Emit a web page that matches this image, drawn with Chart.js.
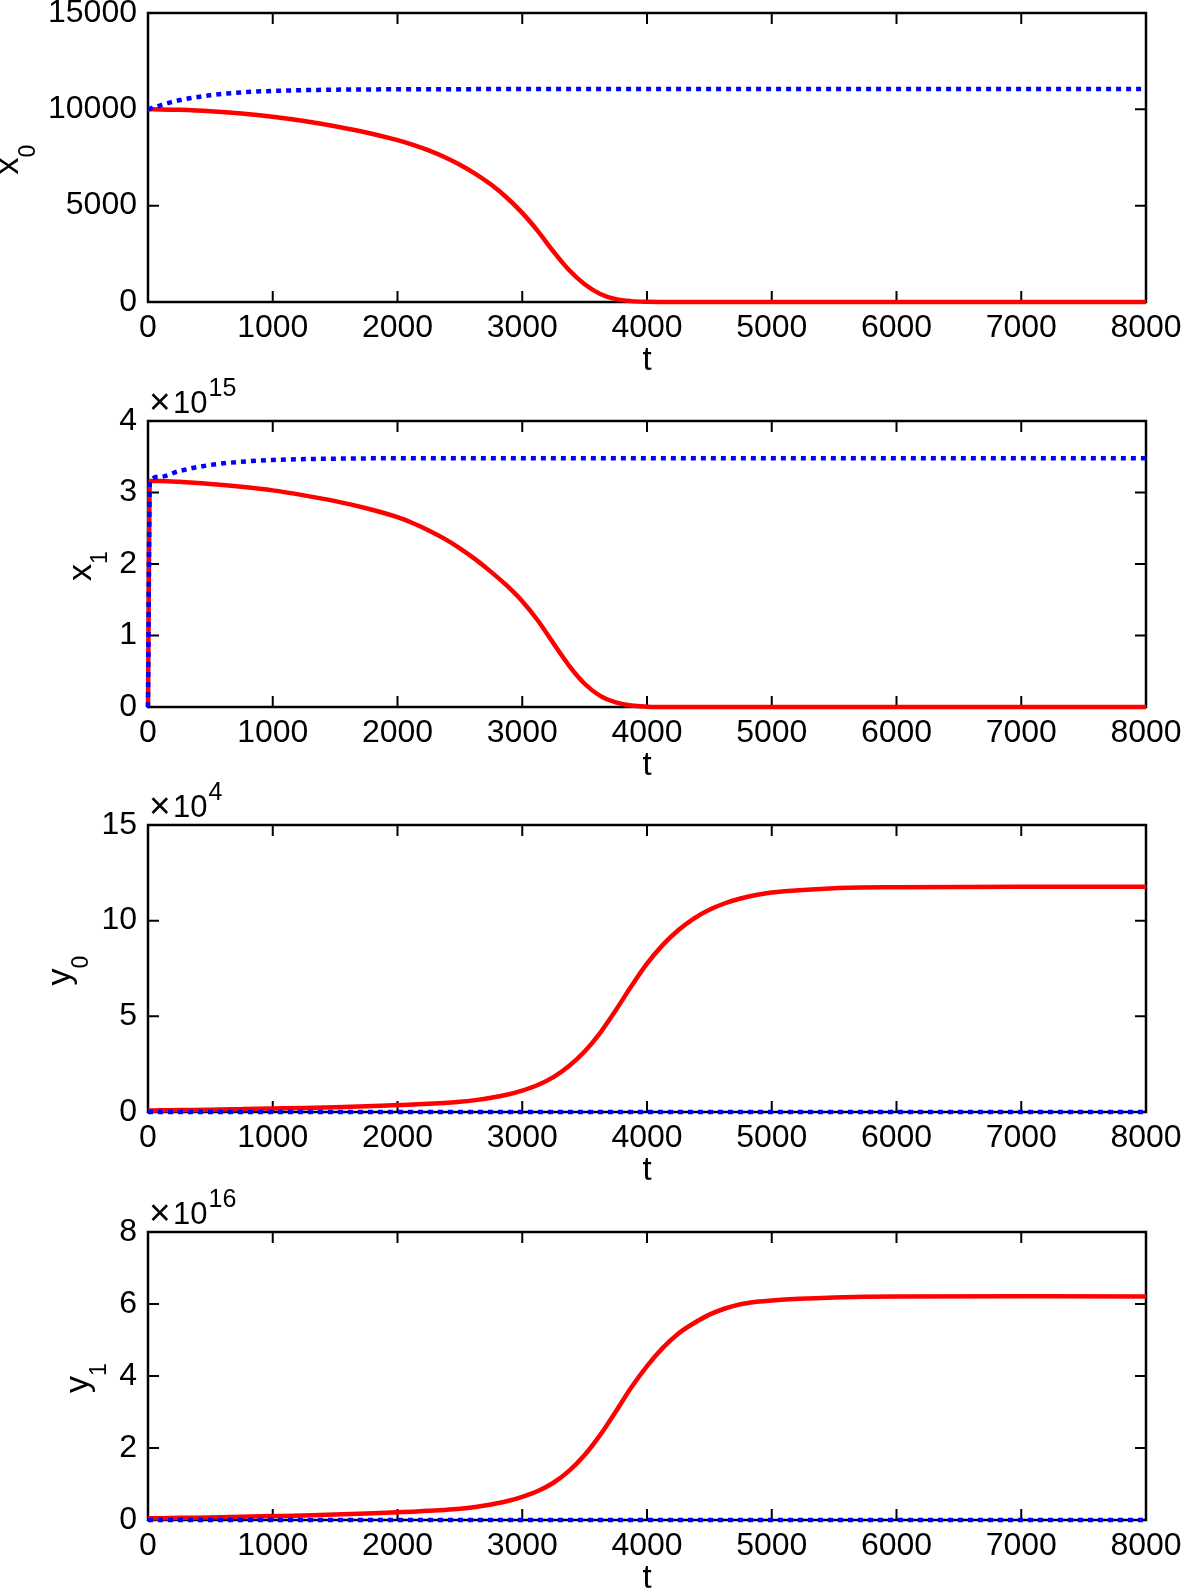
<!DOCTYPE html>
<html>
<head>
<meta charset="utf-8">
<script src="https://cdn.jsdelivr.net/npm/chart.js@4.4.0/dist/chart.umd.min.js"></script>
<style>
  html, body { margin: 0; padding: 0; background: #fff; }
  body { width: 1181px; height: 1591px; position: relative; overflow: hidden; }
  canvas { position: absolute; left: 0; }
</style>
</head>
<body>
<canvas id="chartX0" width="1181" height="411"></canvas>
<canvas id="chartX1" width="1181" height="408"></canvas>
<canvas id="chartY0" width="1181" height="409"></canvas>
<canvas id="chartY1" width="1181" height="410"></canvas>
<script>
// -------------------------------------------------------------------------- Data

const t = [0, 100, 250, 500, 750, 1000, 1250, 1500, 1750,
    2000, 2125, 2250, 2375, 2500, 2625, 2750, 2875, 3000, 3125, 3250, 3375, 3500, 3625,
    3750, 3875, 4000, 4125, 4250, 4375, 4500, 4625, 4750, 4875, 5000,
    5500, 6000, 7000, 8000]

// x1 jumps up right at the start, so it gets one extra early point
const tX1 = [0, 15, 100, 250, 500, 750, 1000, 1250, 1500, 1750,
    2000, 2125, 2250, 2375, 2500, 2625, 2750, 2875, 3000, 3125, 3250, 3375, 3500, 3625,
    3750, 3875, 4000, 4125, 4250, 4375, 4500, 4625, 4750, 4875, 5000,
    5500, 6000, 7000, 8000]

const x0Red = [10000, 9996, 9975, 9905, 9785, 9615, 9395, 9125, 8800,
    8400, 8155, 7865, 7525, 7125, 6655, 6095, 5425, 4625, 3680, 2620, 1660, 920, 420,
    150, 45, 10, 2, 0, 0, 0, 0, 0, 0, 0,
    0, 0, 0, 0]
const x0Blue = [10000, 10210, 10470, 10730, 10880, 10955, 10995, 11020, 11032,
    11040, 11043, 11045, 11047, 11048, 11049, 11050, 11050, 11050, 11050, 11050, 11050, 11050, 11050,
    11050, 11050, 11050, 11050, 11050, 11050, 11050, 11050, 11050, 11050, 11050,
    11050, 11050, 11050, 11050]

const x1Red = [0, 3.16, 3.16, 3.15, 3.12, 3.08, 3.03, 2.96, 2.88, 2.78,
    2.655, 2.57, 2.47, 2.355, 2.22, 2.065, 1.89, 1.70, 1.48, 1.21, 0.89, 0.58, 0.325, 0.155,
    0.065, 0.02, 0.005, 0.001, 0, 0, 0, 0, 0, 0, 0,
    0, 0, 0, 0]
const x1Blue = [0, 3.16, 3.22, 3.30, 3.385, 3.43, 3.455, 3.467, 3.473, 3.477,
    3.479, 3.48, 3.48, 3.48, 3.48, 3.48, 3.48, 3.48, 3.48, 3.48, 3.48, 3.48, 3.48, 3.48,
    3.48, 3.48, 3.48, 3.48, 3.48, 3.48, 3.48, 3.48, 3.48, 3.48, 3.48,
    3.48, 3.48, 3.48, 3.48]

const y0Red = [0.08, 0.085, 0.1, 0.12, 0.15, 0.18, 0.21, 0.25, 0.3,
    0.36, 0.39, 0.43, 0.475, 0.53, 0.62, 0.74, 0.9, 1.12, 1.41, 1.82, 2.4, 3.16, 4.14,
    5.32, 6.58, 7.75, 8.72, 9.5, 10.11, 10.57, 10.91, 11.16, 11.34, 11.47,
    11.7, 11.75, 11.77, 11.77]
const y0Blue = [0, 0, 0, 0, 0, 0, 0, 0, 0,
    0, 0, 0, 0, 0, 0, 0, 0, 0, 0, 0, 0, 0, 0,
    0, 0, 0, 0, 0, 0, 0, 0, 0, 0, 0,
    0, 0, 0, 0]

const y1Red = [0.05, 0.052, 0.06, 0.072, 0.09, 0.108, 0.126, 0.15, 0.18,
    0.215, 0.232, 0.255, 0.278, 0.31, 0.36, 0.43, 0.52, 0.645, 0.805, 1.035, 1.365, 1.805, 2.365,
    3.015, 3.685, 4.275, 4.775, 5.175, 5.465, 5.705, 5.875, 5.995, 6.06, 6.1,
    6.18, 6.21, 6.215, 6.21]
const y1Blue = [0, 0, 0, 0, 0, 0, 0, 0, 0,
    0, 0, 0, 0, 0, 0, 0, 0, 0, 0, 0, 0, 0, 0,
    0, 0, 0, 0, 0, 0, 0, 0, 0, 0, 0,
    0, 0, 0, 0]

const xTicks = { min: 0, max: 8000, step: 1000 }

// -------------------------------------------------------------------------- Style

const red = '#ff0000'
const blue = '#0000ff'
const fontFamily = '"Liberation Sans", Arial, Helvetica, sans-serif'
Chart.defaults.font.family = fontFamily
Chart.defaults.color = '#000'

const tickLen = 11
const tickFont = 32

function points(xs, ys) {
    return xs.map((v, i) => ({ x: v, y: ys[i] }))
}

// box, inward ticks, y label with subscript and the x10^n factor
function framePlugin(p) {
    return {
        id: 'frame',
        beforeDatasetsDraw(chart) {
            const ctx = chart.ctx
            const a = chart.chartArea
            const xs = chart.scales.x
            const ys = chart.scales.y
            ctx.save()
            ctx.strokeStyle = '#000'
            ctx.lineWidth = 2
            ctx.beginPath()
            xs.ticks.forEach(tk => {
                const px = xs.getPixelForValue(tk.value)
                ctx.moveTo(px, a.bottom)
                ctx.lineTo(px, a.bottom - tickLen)
                ctx.moveTo(px, a.top)
                ctx.lineTo(px, a.top + tickLen)
            })
            ys.ticks.forEach(tk => {
                const py = ys.getPixelForValue(tk.value)
                ctx.moveTo(a.left, py)
                ctx.lineTo(a.left + tickLen, py)
                ctx.moveTo(a.right, py)
                ctx.lineTo(a.right - tickLen, py)
            })
            ctx.stroke()
            ctx.lineWidth = 2.5
            ctx.strokeRect(a.left, a.top, a.right - a.left, a.bottom - a.top)
            ctx.restore()
        },
        afterDraw(chart) {
            const ctx = chart.ctx
            const a = chart.chartArea
            ctx.save()
            ctx.fillStyle = '#000'
            ctx.textAlign = 'left'
            ctx.textBaseline = 'alphabetic'

            // y label, rotated
            const big = '34px ' + fontFamily
            const small = '23px ' + fontFamily
            ctx.font = big
            const w1 = ctx.measureText(p.label).width
            ctx.font = small
            const w2 = ctx.measureText(p.sub).width
            ctx.translate(p.labelX, (a.top + a.bottom) / 2 + 2)
            ctx.rotate(-Math.PI / 2)
            const start = -(w1 + w2) / 2
            ctx.font = big
            ctx.fillText(p.label, start, 0)
            ctx.font = small
            ctx.fillText(p.sub, start + w1, p.subShift)
            ctx.setTransform(1, 0, 0, 1, 0, 0)

            // exponent factor
            if (p.exp) {
                const base = a.top - 8
                ctx.font = '37px ' + fontFamily
                ctx.fillText('\u00d7', a.left + 1, base + 1)
                ctx.font = '31px ' + fontFamily
                ctx.fillText('10', a.left + 25, base)
                const w = ctx.measureText('10').width
                ctx.font = '25px ' + fontFamily
                ctx.fillText(p.exp, a.left + 25 + w + 1, base - 17)
            }
            ctx.restore()
        }
    }
}

function makeChart(id, top, height, tArr, redArr, blueArr, yMin, yMax, yStep, p) {
    const canvas = document.getElementById(id)
    const padTop = 50
    const axisH = 72
    canvas.style.top = (top - padTop) + 'px'
    canvas.height = padTop + height + axisH

    return new Chart(canvas, {
        type: 'line',
        data: {
            datasets: [{
                label: 'dotted',
                data: points(tArr, blueArr),
                borderColor: blue,
                borderWidth: 4.5,
                borderDash: [5, 5],
                borderCapStyle: 'butt',
                pointRadius: 0,
                fill: false,
                clip: 6,
                cubicInterpolationMode: 'monotone'
            }, {
                label: 'solid',
                data: points(tArr, redArr),
                borderColor: red,
                borderWidth: 4.5,
                pointRadius: 0,
                fill: false,
                clip: 6,
                cubicInterpolationMode: 'monotone'
            }]
        },
        options: {
            responsive: false,
            animation: false,
            events: [],
            layout: { padding: { top: padTop, left: 0, right: 35, bottom: 0 } },
            plugins: {
                legend: { display: false },
                tooltip: { enabled: false }
            },
            scales: {
                x: {
                    type: 'linear',
                    min: xTicks.min,
                    max: xTicks.max,
                    ticks: {
                        stepSize: xTicks.step,
                        padding: 7,
                        maxRotation: 0,
                        autoSkip: false,
                        font: { size: tickFont },
                        callback: v => String(v)
                    },
                    grid: { display: false, drawTicks: false },
                    border: { display: false },
                    title: {
                        display: true,
                        text: 't',
                        font: { size: 33, lineHeight: 1 },
                        padding: { top: 0, bottom: -3 }
                    },
                    afterFit(s) {
                        s.height = axisH
                        s.paddingLeft = 0
                        s.paddingRight = 0
                    }
                },
                y: {
                    type: 'linear',
                    min: yMin,
                    max: yMax,
                    ticks: {
                        stepSize: yStep,
                        padding: 11,
                        font: { size: tickFont },
                        callback: v => String(v)
                    },
                    grid: { display: false, drawTicks: false },
                    border: { display: false },
                    afterFit(s) {
                        s.width = 148
                        s.paddingTop = 0
                        s.paddingBottom = 0
                    }
                }
            }
        },
        plugins: [framePlugin(p)]
    })
}

// -------------------------------------------------------------------------- Render Charts

let chartX0 = makeChart('chartX0', 13, 289, t, x0Red, x0Blue, 0, 15000, 5000,
    { label: 'x', sub: '0', labelX: 18, subShift: 17, exp: null })

let chartX1 = makeChart('chartX1', 421, 286, tX1, x1Red, x1Blue, 0, 4, 1,
    { label: 'x', sub: '1', labelX: 91, subShift: 16, exp: '15' })

let chartY0 = makeChart('chartY0', 825, 287, t, y0Red, y0Blue, 0, 15, 5,
    { label: 'y', sub: '0', labelX: 70, subShift: 18, exp: '4' })

let chartY1 = makeChart('chartY1', 1232, 288, t, y1Red, y1Blue, 0, 8, 2,
    { label: 'y', sub: '1', labelX: 88, subShift: 18, exp: '16' })
</script>
</body>
</html>
